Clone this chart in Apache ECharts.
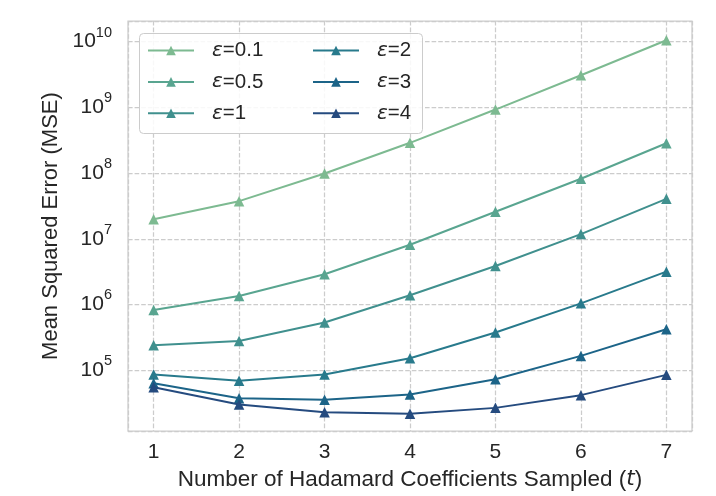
<!DOCTYPE html>
<html>
<head>
<meta charset="utf-8">
<script src="https://cdn.jsdelivr.net/npm/echarts@6/dist/echarts.min.js"></script>
<style>html,body{margin:0;padding:0;background:#fff}#c{width:716px;height:496px}</style>
</head>
<body>
<div id="c"></div>
<script>
const xValues = [1, 2, 3, 4, 5, 6, 7];
const seriesNames = ['ε=0.1', 'ε=0.5', 'ε=1', 'ε=2', 'ε=3', 'ε=4'];
const mse_eps01 = [1.99e7, 3.74e7, 9.86e7, 2.89e8, 9.27e8, 3.08e9, 1.05e10];
const mse_eps05 = [8.25e5, 1.35e6, 2.88e6, 8.13e6, 2.58e7, 8.19e7, 2.85e8];
const mse_eps1  = [2.40e5, 2.79e5, 5.31e5, 1.38e6, 3.85e6, 1.18e7, 4.06e7];
const mse_eps2  = [8.6e4, 6.88e4, 8.6e4, 1.52e5, 3.74e5, 1.04e6, 3.16e6];
const mse_eps3  = [6.35e4, 3.75e4, 3.54e4, 4.27e4, 7.3e4, 1.65e5, 4.2e5];
const mse_eps4  = [5.52e4, 3.01e4, 2.30e4, 2.17e4, 2.67e4, 4.17e4, 8.49e4];
const yTickExponents = [5, 6, 7, 8, 9, 10];
const xTickLabels = ['1', '2', '3', '4', '5', '6', '7'];
const colors = ['#7dba91', '#59a590', '#40908e', '#287a8c', '#1c6488', '#254b7f'];

const allSeries = [mse_eps01, mse_eps05, mse_eps1, mse_eps2, mse_eps3, mse_eps4];
const FONT = 'Liberation Sans, Arial, sans-serif';
const txt = '#262626';

const chart = echarts.init(document.getElementById('c'), null, {renderer: 'canvas'});

const legendCommon = {
  orient: 'vertical',
  itemWidth: 46,
  itemHeight: 12,
  itemGap: 10.4,
  padding: 0,
  formatter: function (name) {
    const rest = name.replace('ε', '');
    return '{e|ε}{n|' + rest + '}';
  },
  textStyle: {
    color: txt,
    fontFamily: FONT,
    fontSize: 20.5,
    lineHeight: 20,
    rich: {
      e: {fontFamily: 'DejaVu Sans', fontStyle: 'italic', fontSize: 20, color: txt, padding: [0, 0, 0, 13], lineHeight: 20},
      n: {fontFamily: FONT, fontSize: 20.5, color: txt, lineHeight: 20}
    }
  }
};

const option = {
  backgroundColor: '#ffffff',
  animation: false,
  grid: {
    left: 128, right: 24, top: 21, bottom: 64,
    show: true, borderColor: '#cccccc', borderWidth: 1.25, backgroundColor: 'transparent'
  },
  graphic: {
    elements: [{
      type: 'rect', z: 3,
      shape: {x: 139.5, y: 33.5, width: 283, height: 100, r: 4},
      style: {fill: 'rgba(255,255,255,0.85)', stroke: '#cccccc', lineWidth: 1}
    }]
  },
  legend: [
    Object.assign({}, legendCommon, {data: seriesNames.slice(0, 3), left: 147, top: 40, z: 5}),
    Object.assign({}, legendCommon, {data: seriesNames.slice(3), left: 312, top: 40, z: 5})
  ],
  xAxis: {
    type: 'value',
    min: 0.7, max: 7.3,
    splitNumber: 7,
    name: 'Number of Hadamard Coefficients Sampled ({i|t})',
    nameLocation: 'middle',
    nameGap: 35,
    nameTextStyle: {
      color: txt, fontFamily: FONT, fontSize: 22.5,
      rich: {i: {fontFamily: 'DejaVu Sans', fontStyle: 'italic', fontSize: 21.5, color: txt}}
    },
    axisLine: {show: false},
    axisTick: {show: false},
    axisLabel: {
      color: txt, fontFamily: FONT, fontSize: 21, margin: 11,
      showMinLabel: false, showMaxLabel: false,
      formatter: function (v) {
        const r = Math.round(v);
        if (Math.abs(v - r) > 1e-6) return '';
        const idx = xValues.indexOf(r);
        return idx >= 0 ? xTickLabels[idx] : '';
      }
    },
    splitLine: {show: true, lineStyle: {color: '#cccccc', width: 1.25, type: [4.6, 2]}}
  },
  yAxis: {
    type: 'log',
    logBase: 10,
    min: 11830, max: 2.065e10,
    name: 'Mean Squared Error (MSE)',
    nameLocation: 'middle',
    nameGap: 66,
    nameTextStyle: {color: txt, fontFamily: FONT, fontSize: 22},
    axisLine: {show: false},
    axisTick: {show: false},
    minorTick: {show: false},
    minorSplitLine: {show: false},
    axisLabel: {
      color: txt, margin: 16,
      showMinLabel: false, showMaxLabel: false,
      formatter: function (v) {
        const e = Math.log10(v);
        const r = Math.round(e);
        if (Math.abs(e - r) > 1e-6 || yTickExponents.indexOf(r) < 0) return '';
        return '{b|10}{s|' + r + '}';
      },
      rich: {
        b: {fontFamily: FONT, fontSize: 21, color: txt, lineHeight: 21, verticalAlign: 'bottom'},
        s: {fontFamily: FONT, fontSize: 14.5, color: txt, lineHeight: 14, padding: [0, 0, 12, 0], verticalAlign: 'bottom'}
      }
    },
    splitLine: {show: true, lineStyle: {color: '#cccccc', width: 1.25, type: [4.6, 2]}}
  },
  series: allSeries.map(function (arr, i) {
    return {
      name: seriesNames[i],
      type: 'line',
      symbol: 'triangle',
      symbolSize: 10.5,
      color: colors[i],
      lineStyle: {width: 2, color: colors[i]},
      itemStyle: {color: colors[i]},
      data: xValues.map(function (x, j) { return [x, arr[j]]; }),
      z: 2 + i * 0.01
    };
  })
};
chart.setOption(option);
</script>
</body>
</html>
